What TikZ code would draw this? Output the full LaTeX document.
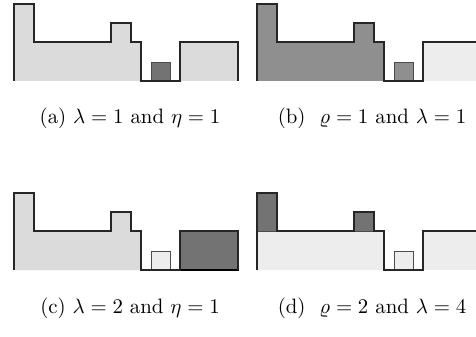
\documentclass[tikz,border=0pt]{standalone}
\usepackage{amsmath}
\usetikzlibrary{positioning}
\definecolor{sklight}{gray}{0.86}
\definecolor{skpale}{gray}{0.93}
\definecolor{skmid}{gray}{0.56}
\definecolor{skdark}{gray}{0.45}

% outline of one skyline (local pixel units)
\newcommand{\skyline}{%
  \draw[edge] (0,81) -- (0,4) -- (20,4) -- (20,42) -- (97,42) -- (97,23)
    -- (117,23) -- (117,42) -- (127,42) -- (127,81) -- (166,81) -- (166,42)
    -- (224,42) -- (224,81);}

\begin{document}
\begin{tikzpicture}[x=0.48pt, y=-0.48pt,
    edge/.style={black!85, line width=0.6pt, line join=miter},
    blk/.style={draw=black!70, line width=0.4pt},
    captext/.style={font=\normalsize, inner sep=0pt}]

\clip (0,0) rectangle (476,337);

% --- (a) ---
\begin{scope}[shift={(14,0)}]
  \fill[sklight] (0,81) -- (0,4) -- (20,4) -- (20,42) -- (97,42) -- (97,23)
    -- (117,23) -- (117,42) -- (127,42) -- (127,81) -- cycle;
  \fill[sklight] (166,42) rectangle (224,81);
  \filldraw[skdark, blk] (137,62) rectangle (156,81);
  \skyline
\end{scope}

% --- (b) ---
\begin{scope}[shift={(257,0)}]
  \fill[skmid] (0,81) -- (0,4) -- (20,4) -- (20,42) -- (97,42) -- (97,23)
    -- (117,23) -- (117,42) -- (127,42) -- (127,81) -- cycle;
  \fill[skpale] (166,42) rectangle (224,81);
  \filldraw[skmid, blk] (137,62) rectangle (156,81);
  \skyline
\end{scope}

% --- (c) ---
\begin{scope}[shift={(14,189)}]
  \fill[sklight] (0,81) -- (0,4) -- (20,4) -- (20,42) -- (97,42) -- (97,23)
    -- (117,23) -- (117,42) -- (127,42) -- (127,81) -- cycle;
  \filldraw[skpale, blk] (137,62) rectangle (156,81);
  \filldraw[skdark, draw=black, line width=0.9pt] (166,42) rectangle (224,81);
  \skyline
\end{scope}

% --- (d) ---
\begin{scope}[shift={(257,189)}]
  \fill[skpale] (0,81) -- (0,4) -- (20,4) -- (20,42) -- (97,42) -- (97,23)
    -- (117,23) -- (117,42) -- (127,42) -- (127,81) -- cycle;
  \fill[skpale] (166,42) rectangle (224,81);
  \filldraw[skpale, blk] (137,62) rectangle (156,81);
  \filldraw[skdark, blk] (0,4) rectangle (20,42);
  \filldraw[skdark, blk] (97,23) rectangle (117,42);
  \skyline
\end{scope}

% captions
\node[captext] (capa) at (130,118) {(a) $\lambda = 1$ and $\eta = 1$};
\node[captext] (capb) at (372,118) {(b) \ $\varrho = 1$ and $\lambda = 1$};
\node[captext] (capc) at (130,308) {(c) $\lambda = 2$ and $\eta = 1$};
\node[captext] (capd) at (372,308) {(d) \ $\varrho = 2$ and $\lambda = 4$};

\end{tikzpicture}
\end{document}
